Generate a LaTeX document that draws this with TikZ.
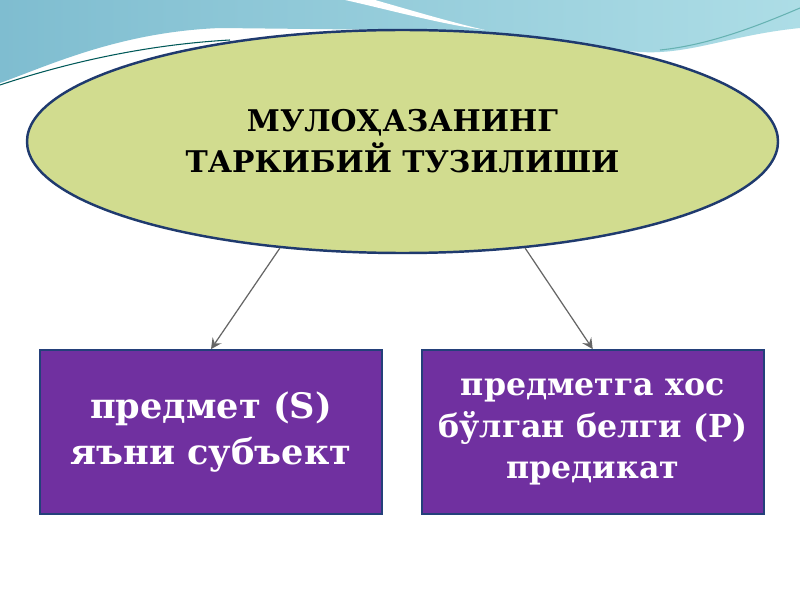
\documentclass[tikz,border=0pt]{standalone}
\usepackage{fontspec}
\setmainfont{DejaVu Serif}
\usepackage{xcolor}
\usetikzlibrary{shapes,arrows,positioning}

\definecolor{wavebluea}{HTML}{7FBDD0}
\definecolor{wavebblueb}{HTML}{ADDDE6}
\definecolor{ovalfill}{HTML}{D1DC8F}
\definecolor{ovalline}{HTML}{1F3A6E}
\definecolor{boxfill}{HTML}{7030A0}
\definecolor{boxline}{HTML}{24407A}

\begin{document}
\begin{tikzpicture}[node distance=0.38cm, auto,
    ovalbox/.style={ellipse, draw=ovalline, line width=0.7pt, fill=ovalfill, minimum width=7.51cm, minimum height=2.23cm, inner sep=0pt, align=center, font=\bfseries\fontsize{8.5}{11.6}\selectfont},
    purplebox/.style={rectangle, draw=boxline, line width=0.5pt, fill=boxfill, text=white, minimum width=3.42cm, minimum height=1.64cm, inner sep=1pt, align=center, font=\bfseries\fontsize{10}{13}\selectfont},
    arrow/.style={->, >=stealth, line width=0.35pt, draw=black!60}]

    \useasboundingbox (0,0) rectangle (8,6);
    \fill[white] (0,0) rectangle (8,6);

    % background waves
    \shade[left color=wavebluea, right color=wavebblueb]
        (0,6) -- (8,6) -- (8,5.72) .. controls (7.3,5.65) and (6.9,5.45) .. (6.4,5.48)
        -- (4,5.7) -- (2.2,5.72) .. controls (1.2,5.68) and (0.5,5.35) .. (0,5.17) -- cycle;
    \fill[white] (3.45,6) -- (3.75,6) .. controls (4.1,5.9) and (4.5,5.78) .. (4.85,5.7)
        .. controls (4.4,5.76) and (3.9,5.9) .. cycle;
    \fill[white] (0,5.1) .. controls (0.6,5.32) and (1.4,5.62) .. (2.6,5.7)
        -- (2.6,5.5) -- (0,4.9) -- cycle;
    \draw[teal!70!black, line width=0.3pt] (0,5.15) .. controls (0.6,5.35) and (1.4,5.55) .. (2.3,5.6);
    \draw[teal!60, line width=0.3pt] (6.6,5.5) .. controls (7.1,5.55) and (7.6,5.75) .. (8,5.92);

    \node[ovalbox] (title) at (4.025,4.585) {МУЛОҲАЗАНИНГ\\ТАРКИБИЙ ТУЗИЛИШИ};
    \node[purplebox] (subj) at (2.11,1.68) {предмет (S)\\яъни субъект};
    \node[purplebox, right=of subj, font=\bfseries\fontsize{9}{11.9}\selectfont] (pred) {предметга хос\\бўлган белги (P)\\предикат};

    \draw[arrow] (title.221) -- (subj.north);
    \draw[arrow] (title.319) -- (pred.north);

\end{tikzpicture}
\end{document}
